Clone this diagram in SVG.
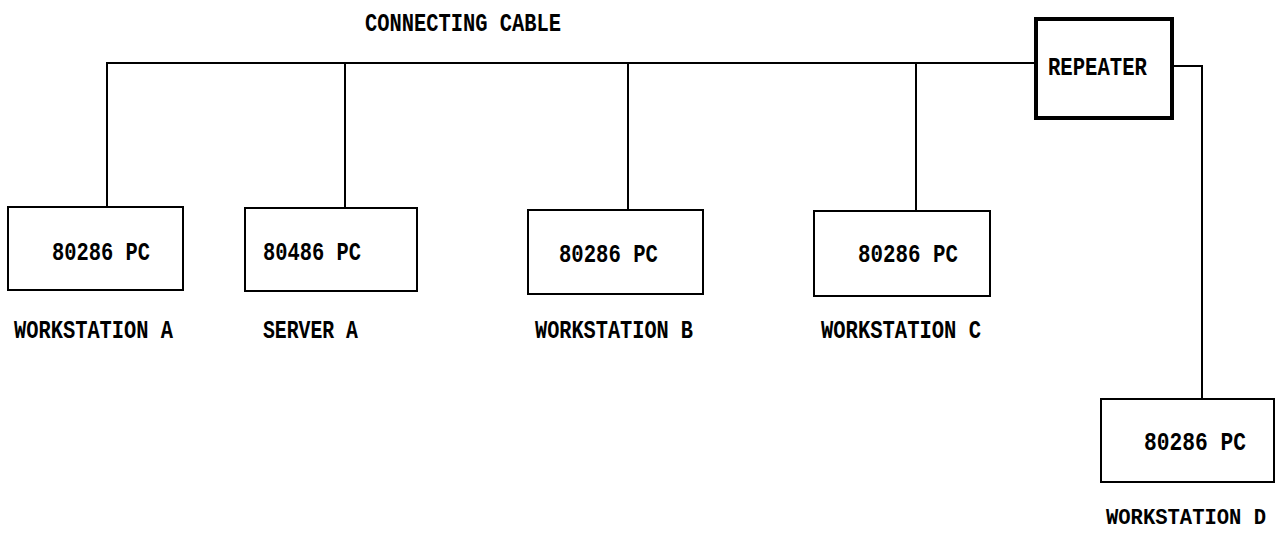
<svg xmlns="http://www.w3.org/2000/svg" width="1280" height="549" viewBox="0 0 1280 549">
<style>
.box{fill:#fff;stroke:#000;stroke-width:2}
.rep{fill:#fff;stroke:#000;stroke-width:4}
.wire{fill:none;stroke:#000;stroke-width:2}
text{font-family:"Liberation Mono","DejaVu Sans Mono",monospace;font-weight:bold;font-size:26px;fill:#000}
</style>
<rect width="1280" height="549" fill="#fff"/>
<text id="cable-label" x="365" y="31" textLength="196" lengthAdjust="spacingAndGlyphs">CONNECTING CABLE</text>
<g id="connectors">
<polyline class="wire" points="107,207 107,63 1036,63"/>
<line class="wire" x1="345" y1="63" x2="345" y2="208"/>
<line class="wire" x1="628" y1="63" x2="628" y2="210"/>
<line class="wire" x1="916" y1="63" x2="916" y2="211"/>
<polyline class="wire" points="1172,66 1202,66 1202,399"/>
</g>
<g id="repeater">
<rect class="rep" x="1036" y="19" width="136" height="99"/>
<text x="1048" y="75" textLength="99" lengthAdjust="spacingAndGlyphs">REPEATER</text>
</g>
<g id="workstation-a">
<rect class="box" x="8" y="207" width="175" height="83"/>
<text x="52" y="260" textLength="98" lengthAdjust="spacingAndGlyphs">80286 PC</text>
<text x="14" y="338" textLength="159" lengthAdjust="spacingAndGlyphs">WORKSTATION A</text>
</g>
<g id="server-a">
<rect class="box" x="245" y="208" width="172" height="83"/>
<text x="263" y="260" textLength="98" lengthAdjust="spacingAndGlyphs">80486 PC</text>
<text x="263" y="338" textLength="95" lengthAdjust="spacingAndGlyphs">SERVER A</text>
</g>
<g id="workstation-b">
<rect class="box" x="528" y="210" width="175" height="84"/>
<text x="559" y="262" textLength="99" lengthAdjust="spacingAndGlyphs">80286 PC</text>
<text x="535" y="338" textLength="158" lengthAdjust="spacingAndGlyphs">WORKSTATION B</text>
</g>
<g id="workstation-c">
<rect class="box" x="814" y="211" width="176" height="85"/>
<text x="858" y="262" textLength="100" lengthAdjust="spacingAndGlyphs">80286 PC</text>
<text x="821" y="338" textLength="160" lengthAdjust="spacingAndGlyphs">WORKSTATION C</text>
</g>
<g id="workstation-d">
<rect class="box" x="1101" y="399" width="173" height="83"/>
<text x="1144" y="450" textLength="102" lengthAdjust="spacingAndGlyphs">80286 PC</text>
<text x="1106" y="524" style="font-size:22px" textLength="160" lengthAdjust="spacingAndGlyphs">WORKSTATION D</text>
</g>
</svg>
